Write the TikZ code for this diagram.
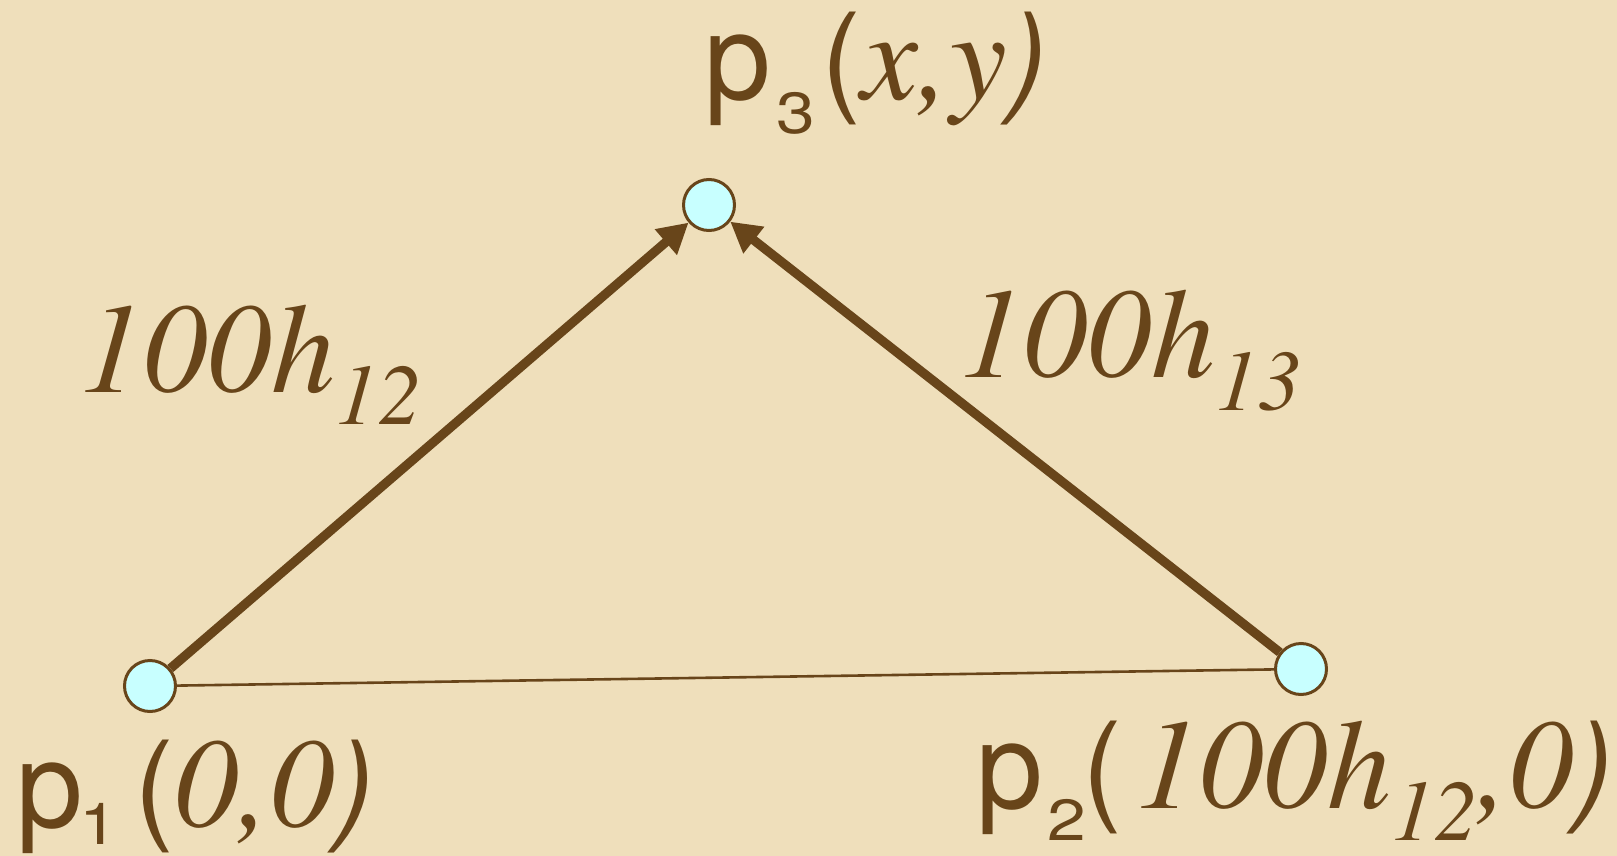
\documentclass[tikz,border=0pt]{standalone}
\usepackage{fontspec}
\usepackage{graphicx}
\usetikzlibrary{arrows.meta}
\newfontfamily\labsans{TeX Gyre Heros}
\newfontfamily\labserif{texgyretermes}[Extension=.otf, UprightFont=*-regular, ItalicFont=*-italic]
\newcommand\bigsans{\labsans\fontsize{60}{60}\selectfont}
\newcommand\subsans{\labsans\fontsize{29}{29}\selectfont}
\newcommand\bigit{\labserif\itshape\fontsize{64}{64}\selectfont}
\newcommand\subit{\labserif\itshape\fontsize{43}{43}\selectfont}
\newcommand\psub[2]{\raisebox{-#1}{\subsans\scalebox{1.2}[1]{#2}}}
\definecolor{labbrown}{RGB}{104,69,26}
\definecolor{bgpaper}{RGB}{239,223,187}
\definecolor{ptfill}{RGB}{200,255,255}
\tikzset{
  ptnode/.style={circle,draw=labbrown,fill=ptfill,line width=1.5pt,minimum size=25.5pt,inner sep=0pt},
  lab/.style={anchor=base west,inner sep=0pt,outer sep=0pt,text=labbrown},
  bigarrow/.style={draw=labbrown,line width=4.6pt,-{Triangle[length=15pt,width=16pt]}},
  thinline/.style={draw=labbrown,line width=1.3pt}
}
\begin{document}
\begin{tikzpicture}[x=0.5pt,y=-0.5pt]
\path[fill=bgpaper] (0,0) rectangle (1617,856);
\useasboundingbox (0,0) rectangle (1617,856);
\node[ptnode] (p1) at (150,686) {};
\node[ptnode] (p2) at (1301,669) {};
\node[ptnode] (p3) at (709,205) {};
\draw[thinline] (p1) -- (p2);
\draw[bigarrow] (p1) -- (p3);
\draw[bigarrow] (p2) -- (p3);
\node[lab] (l3) at (704,100) {\bigsans p\kern3pt\psub{17pt}{3}\kern3pt(\bigit x,y\bigsans)};
\node[lab] (l1) at (17,827) {\bigsans p\kern-2pt\psub{8.5pt}{1}\kern8pt(\bigit 0,0\bigsans)};
\node[lab] (l2) at (976,808) {\bigsans p\kern2.5pt\psub{16pt}{2}\kern-2pt(\kern6.5pt\bigit 100h\raisebox{-16pt}{\subit 12},0\bigsans)};
\node[lab] (e12) at (79,392) {\bigit 100h\raisebox{-16pt}{\subit 12}};
\node[lab] (e13) at (959,377) {\bigit 100h\raisebox{-16.5pt}{\subit 13}};
\end{tikzpicture}
\end{document}
